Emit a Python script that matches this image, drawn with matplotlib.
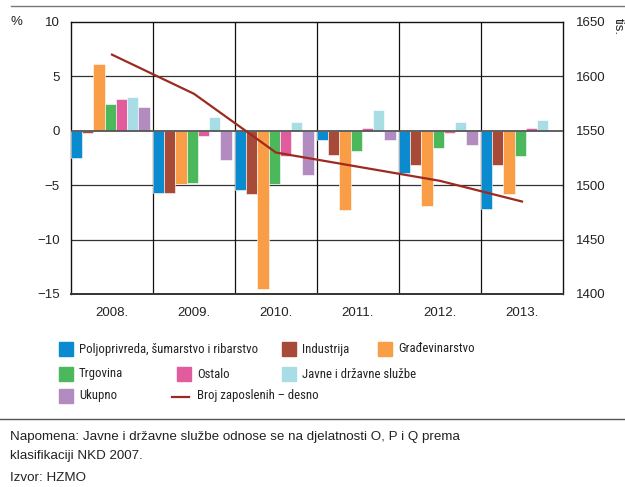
import numpy as np
import matplotlib
matplotlib.use('Agg')
import matplotlib.pyplot as plt
from matplotlib.patches import Rectangle
from matplotlib.lines import Line2D

# Godine i stope promjene zaposlenosti po djelatnostima (%)
godine = ['2008.', '2009.', '2010.', '2011.', '2012.', '2013.']
poljoprivreda = [-2.5, -5.7, -5.4, -0.8, -3.9, -7.2]
industrija = [-0.2, -5.7, -5.8, -2.2, -3.1, -3.1]
gradjevinarstvo = [6.1, -4.9, -14.5, -7.3, -6.9, -5.8]
trgovina = [2.5, -4.8, -4.9, -1.9, -1.6, -2.3]
ostalo = [2.9, -0.5, -2.3, 0.3, -0.2, 0.3]
javne_sluzbe = [3.1, 1.3, 0.8, 1.9, 0.8, 1.0]
ukupno = [2.2, -2.7, -4.1, -0.8, -1.3, np.nan]
# Broj zaposlenih (tis.), desna os
broj_zaposlenih = [1620, 1584, 1530, 1517, 1504, 1485]

nazivi = ['Poljoprivreda, šumarstvo i ribarstvo', 'Industrija', 'Građevinarstvo',
          'Trgovina', 'Ostalo', 'Javne i državne službe', 'Ukupno']
boje = ['#0a8bd0', '#a84a38', '#f99d47', '#4cb85c', '#e05c9c', '#a8dde6', '#b28cc1']
boja_linije = '#9c2a20'

plt.rcParams['font.family'] = ['Liberation Sans', 'DejaVu Sans']

fig = plt.figure(figsize=(6.25, 4.87), dpi=100)
W, H = 625, 487
ax = fig.add_axes([71 / W, 1 - 294 / H, (563 - 71) / W, (294 - 22) / H])

serije = [poljoprivreda, industrija, gradjevinarstvo, trgovina, ostalo, javne_sluzbe, ukupno]
x = np.arange(len(godine))
sirina = 0.137
for k, (vrijednosti, boja) in enumerate(zip(serije, boje)):
    ax.bar(x - 0.5 + k * sirina, vrijednosti, width=sirina, align='edge',
           color=boja, edgecolor='white', linewidth=0.4, zorder=3)

ax.set_xlim(-0.5, len(godine) - 0.5)
ax.set_ylim(-15, 10)
ax.set_yticks([-15, -10, -5, 0, 5, 10])
ax.set_yticklabels(['\u221215', '\u221210', '\u22125', '0', '5', '10'])
ax.set_xticks(x)
ax.set_xticklabels(godine)
ax.tick_params(length=0, labelsize=9.5, colors='#222222', pad=8)
ax.tick_params(axis='x', pad=9)

# mreža
for yv in [-10, -5, 5]:
    ax.axhline(yv, color='#333333', lw=0.9, zorder=1)
ax.axhline(0, color='#555555', lw=1.3, zorder=4)
for xv in x[1:] - 0.5:
    ax.axvline(xv, color='#111111', lw=0.9, zorder=1)
for s in ax.spines.values():
    s.set_color('#111111')
    s.set_linewidth(1.0)
ax.spines['bottom'].set_linewidth(1.4)
ax.spines['bottom'].set_color('#333333')

ax2 = ax.twinx()
ax2.plot(x, broj_zaposlenih, color=boja_linije, lw=1.6, zorder=5)
ax2.set_ylim(1400, 1650)
ax2.set_yticks([1400, 1450, 1500, 1550, 1600, 1650])
ax2.tick_params(length=0, labelsize=9.5, colors='#222222', pad=9)
for s in ax2.spines.values():
    s.set_visible(False)

fig.text(16 / W, 1 - 22 / H, '%', fontsize=9.5, color='#222222', ha='center', va='center')
fig.text(618 / W, 1 - 27 / H, 'tis.', fontsize=9.5, color='#222222', ha='center', va='center',
         rotation=-90)

# gornja i donja crta
fig.add_artist(Line2D([11 / W, 1], [1 - 6 / H, 1 - 6 / H], color='#777777', lw=1.0))
fig.add_artist(Line2D([0, 1], [1 - 419 / H, 1 - 419 / H], color='#555555', lw=1.0))

# legenda (ručno)
leg_font = ['Roboto Condensed', 'DejaVu Sans']
stavke = [(59, 349, 0), (282, 349, 1), (378, 349, 2),
          (59, 374, 3), (177, 374, 4), (282, 374, 5),
          (59, 396, 6)]
for px, py, i in stavke:
    fig.add_artist(Rectangle((px / W, 1 - (py + 7) / H), 14 / W, 14 / H,
                             transform=fig.transFigure, color=boje[i]))
    fig.text((px + 20) / W, 1 - py / H, nazivi[i], fontsize=9.2, family=leg_font,
             color='#222222', va='center', ha='left')
fig.add_artist(Line2D([172 / W, 189 / W], [1 - 396.5 / H, 1 - 396.5 / H],
                      color=boja_linije, lw=1.6))
fig.text(197 / W, 1 - 396 / H, 'Broj zaposlenih \u2013 desno', fontsize=9.2, family=leg_font,
         color='#222222', va='center', ha='left')

fig.text(10 / W, 1 - 437 / H, 'Napomena: Javne i državne službe odnose se na djelatnosti O, P i Q prema',
         fontsize=9.6, color='#222222', va='center', ha='left')
fig.text(10 / W, 1 - 456 / H, 'klasifikaciji NKD 2007.',
         fontsize=9.6, color='#222222', va='center', ha='left')
fig.text(10 / W, 1 - 478 / H, 'Izvor: HZMO',
         fontsize=9.6, color='#222222', va='center', ha='left')

fig.savefig('out.png', dpi=100)
